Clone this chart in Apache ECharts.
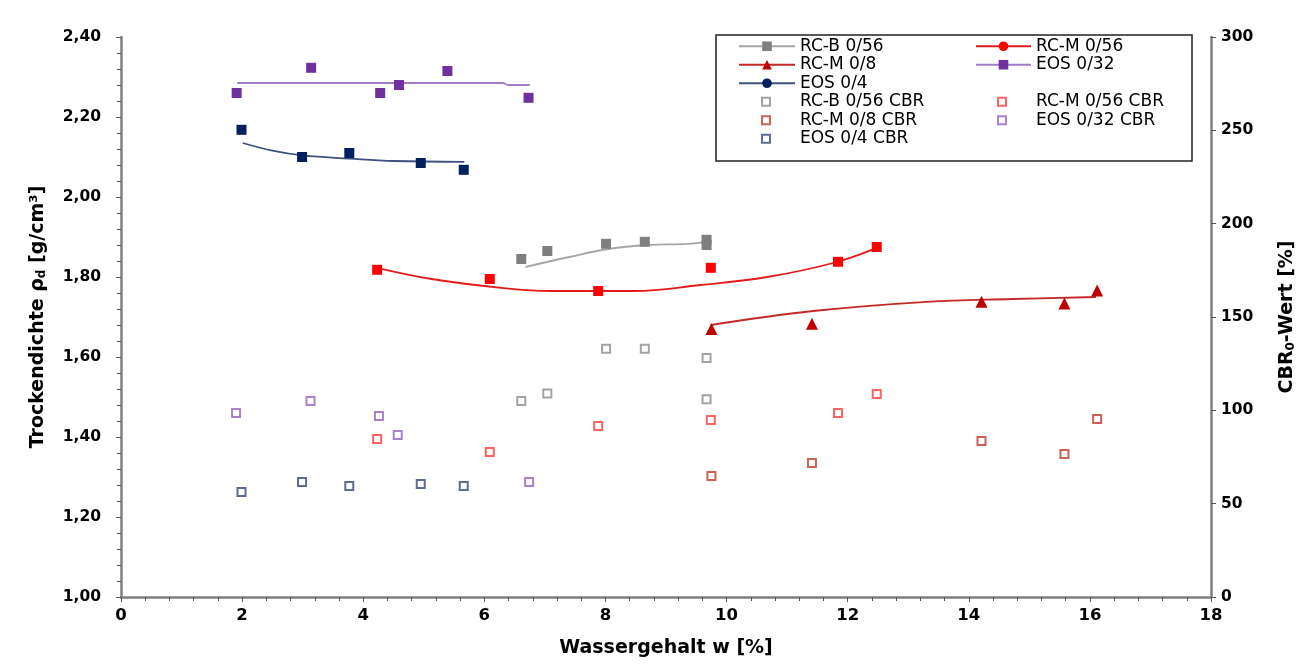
<!DOCTYPE html>
<html>
<head>
<meta charset="utf-8">
<title>Trockendichte / CBR</title>
<script src="https://cdn.jsdelivr.net/npm/echarts@6/dist/echarts.min.js"></script>
<style>
  html, body { margin: 0; padding: 0; background: #fff; }
  #chart { width: 1297px; height: 672px; }
</style>
</head>
<body>
<div id="chart"></div>
<script>
  // Messwerte: Wassergehalt w [%], Trockendichte [g/cm3], CBR [%]
  const rcb056W = [6.61, 7.04, 8.01, 8.65, 9.67, 9.67]
  const rcb056Rho = [1.845, 1.865, 1.883, 1.888, 1.893, 1.880]
  const rcb056Cbr = [105, 109, 133, 133, 128, 106]

  const rcm056W = [4.23, 6.09, 7.88, 9.74, 11.84, 12.48]
  const rcm056Rho = [1.818, 1.795, 1.765, 1.823, 1.838, 1.875]
  const rcm056Cbr = [84.6, 77.7, 91.6, 94.8, 98.6, 108.7]

  const rcm08W = [9.75, 11.41, 14.21, 15.58, 16.12]
  const rcm08Rho = [1.670, 1.683, 1.738, 1.734, 1.766]
  const rcm08Cbr = [64.8, 71.8, 83.6, 76.6, 95.3]

  const eos032W = [1.91, 3.14, 4.28, 4.59, 5.39, 6.73]
  const eos032Rho = [2.260, 2.323, 2.260, 2.280, 2.315, 2.248]
  const eos032CbrW = [1.90, 3.13, 4.26, 4.57, 6.74]
  const eos032Cbr = [98.6, 105, 97, 86.8, 61.6]

  const eos04W = [1.99, 2.99, 3.77, 4.95, 5.66]
  const eos04Rho = [2.168, 2.100, 2.110, 2.085, 2.068]
  const eos04Cbr = [56.2, 61.6, 59.5, 60.5, 59.5]

  // Ausgleichskurven [w, rho]
  const rcb056Trend = [[6.68, 1.825], [7.4, 1.85], [8.05, 1.87], [8.7, 1.88], [9.36, 1.883], [9.67, 1.888]]
  const rcm056Trend = [[4.23, 1.823], [5.13, 1.795], [6.28, 1.773], [7.1, 1.765], [8.47, 1.765], [9.57, 1.78], [10.67, 1.80], [11.76, 1.835], [12.48, 1.873]]
  const rcm08Trend = [[9.74, 1.68], [11.43, 1.715], [13.31, 1.738], [14.72, 1.745], [16.1, 1.75]]
  const eos032Trend = [[1.92, 2.285], [6.3, 2.285], [6.4, 2.28], [6.75, 2.28]]
  const eos04Trend = [[2.01, 2.135], [2.5, 2.116], [3.0, 2.104], [3.77, 2.096], [4.5, 2.09], [5.67, 2.088]]

  const xTicks = {min: 0, max: 18, interval: 2}
  const rhoTicks = {min: 1.0, max: 2.4, interval: 0.2}
  const cbrTicks = {min: 0, max: 300, interval: 50}

  const FONT = 'DejaVu Sans'

  function zip (xs, ys) {
    return xs.map((x, i) => [x, ys[i]])
  }

  function pointSeries (name, xs, ys, symbol, size, color) {
    return {
      name,
      type: 'scatter',
      yAxisIndex: 0,
      symbol,
      symbolSize: size,
      itemStyle: {color, opacity: 1},
      data: zip(xs, ys),
      z: 4
    }
  }

  function trendSeries (name, data, symbol, markColor, lineColor) {
    return {
      name,
      type: 'line',
      yAxisIndex: 0,
      smooth: 0.4,
      symbol,
      showSymbol: false,
      itemStyle: {color: markColor},
      lineStyle: {color: lineColor, width: 1.8},
      data,
      z: 3
    }
  }

  function cbrSeries (name, xs, ys, color) {
    return {
      name,
      type: 'scatter',
      yAxisIndex: 1,
      symbol: 'rect',
      symbolSize: 8,
      itemStyle: {color: '#fff', borderColor: color, borderWidth: 2},
      data: zip(xs, ys),
      z: 4
    }
  }

  const legendText = {fontFamily: FONT, fontSize: 17, color: '#000', lineHeight: 18.5}

  // Linien-Legende: Linie 53/55 px, Text dahinter
  function lineLegend (left, itemWidth, data) {
    return {
      orient: 'vertical',
      left,
      top: 37,
      padding: 0,
      itemWidth,
      itemHeight: 12,
      itemGap: 0,
      selectedMode: false,
      textStyle: Object.assign({padding: [0, 0, 0, 0]}, legendText),
      data
    }
  }

  // CBR-Legende: kleines Quadrat, Text per padding auf gleiche Spalte geschoben
  function cbrLegend (left, data) {
    return {
      orient: 'vertical',
      left,
      top: 92.5,
      padding: 0,
      itemWidth: 8,
      itemHeight: 8,
      itemGap: 0,
      selectedMode: false,
      textStyle: Object.assign({padding: [0, 0, 0, 25]}, legendText),
      data
    }
  }

  const axisLine = {show: true, lineStyle: {color: '#7f7f7f', width: 2.5}}
  const axisLabel = {fontFamily: FONT, fontSize: 15.5, fontWeight: 'bold', color: '#000'}
  const nameFont = {fontFamily: FONT, fontSize: 19, fontWeight: 'bold', color: '#000'}
  const subFont = {fontFamily: FONT, fontSize: 12, fontWeight: 'bold', color: '#000', padding: [8, 0, 0, 0]}

  const option = {
    backgroundColor: '#fff',
    animation: false,
    // v6: Raster nicht automatisch verkleinern, Achsentitel darf rechts anstossen
    grid: {left: 121, right: 86, top: 37, bottom: 75, outerBoundsMode: 'none'},
    graphic: [{
      type: 'rect',
      shape: {x: 716, y: 35, width: 476, height: 126},
      style: {fill: 'none', stroke: '#222', lineWidth: 1.5},
      z: 10
    }],
    legend: [
      lineLegend(738, 56, ['RC-B 0/56', 'RC-M 0/8', 'EOS 0/4']),
      lineLegend(975, 55, ['RC-M 0/56', 'EOS 0/32']),
      cbrLegend(761, ['RC-B 0/56 CBR', 'RC-M 0/8 CBR', 'EOS 0/4 CBR']),
      cbrLegend(997, ['RC-M 0/56 CBR', 'EOS 0/32 CBR'])
    ],
    xAxis: {
      type: 'value',
      min: xTicks.min,
      max: xTicks.max,
      interval: xTicks.interval,
      name: 'Wassergehalt w [%]',
      nameLocation: 'middle',
      nameGap: 42,
      nameTextStyle: nameFont,
      axisLine,
      axisTick: {show: true, length: 5, lineStyle: {color: '#555'}},
      minorTick: {show: true, splitNumber: 5, length: 4, lineStyle: {color: '#555'}},
      axisLabel: Object.assign({margin: 10}, axisLabel, {fontSize: 16.5}),
      splitLine: {show: false}
    },
    yAxis: [{
      type: 'value',
      position: 'left',
      min: rhoTicks.min,
      max: rhoTicks.max,
      interval: rhoTicks.interval,
      name: '{n|Trockendichte ρ}{s|d}{n| [g/cm³]}',
      nameLocation: 'middle',
      nameRotate: 90,
      nameGap: 73,
      nameTextStyle: {rich: {n: nameFont, s: subFont}},
      axisLine,
      axisTick: {show: true, length: 5, lineStyle: {color: '#555'}},
      minorTick: {show: true, splitNumber: 5, length: 4, lineStyle: {color: '#555'}},
      axisLabel: Object.assign({
        margin: 20,
        formatter: v => v.toFixed(2).replace('.', ',')
      }, axisLabel),
      splitLine: {show: false}
    }, {
      type: 'value',
      position: 'right',
      min: cbrTicks.min,
      max: cbrTicks.max,
      interval: cbrTicks.interval,
      name: '{n|CBR}{s|0}{n|-Wert [%]}',
      nameLocation: 'middle',
      nameRotate: 90,
      nameGap: 66,
      nameTextStyle: {rich: {n: nameFont, s: subFont}},
      axisLine,
      axisTick: {show: true, length: 5, lineStyle: {color: '#555'}},
      axisLabel: Object.assign({margin: 10}, axisLabel),
      splitLine: {show: false}
    }],
    series: [
      // Trendlinien (tragen die Legendeneintraege)
      trendSeries('RC-B 0/56', rcb056Trend, 'rect', '#7f7f7f', '#a6a6a6'),
      trendSeries('RC-M 0/56', rcm056Trend, 'circle', '#ff0000', '#e31a1a'),
      trendSeries('RC-M 0/8', rcm08Trend, 'triangle', '#c00000', '#c62828'),
      trendSeries('EOS 0/32', eos032Trend, 'rect', '#7030a0', '#a07cc8'),
      trendSeries('EOS 0/4', eos04Trend, 'circle', '#002060', '#3d5280'),
      // Messpunkte Trockendichte
      pointSeries('RC-B 0/56 Werte', rcb056W, rcb056Rho, 'rect', 10, '#7f7f7f'),
      pointSeries('RC-M 0/56 Werte', rcm056W, rcm056Rho, 'rect', 10, '#ff0000'),
      pointSeries('RC-M 0/8 Werte', rcm08W, rcm08Rho, 'triangle', 12, '#c00000'),
      pointSeries('EOS 0/32 Werte', eos032W, eos032Rho, 'rect', 10, '#7030a0'),
      pointSeries('EOS 0/4 Werte', eos04W, eos04Rho, 'rect', 10, '#002060'),
      // CBR-Werte
      cbrSeries('RC-B 0/56 CBR', rcb056W, rcb056Cbr, '#8c8c8c'),
      cbrSeries('RC-M 0/56 CBR', rcm056W, rcm056Cbr, '#ff3b3b'),
      cbrSeries('RC-M 0/8 CBR', rcm08W, rcm08Cbr, '#c0392b'),
      cbrSeries('EOS 0/32 CBR', eos032CbrW, eos032Cbr, '#9360c8'),
      cbrSeries('EOS 0/4 CBR', eos04W, eos04Cbr, '#34477a')
    ]
  }

  const chart = echarts.init(document.getElementById('chart'))
  chart.setOption(option)
</script>
</body>
</html>
